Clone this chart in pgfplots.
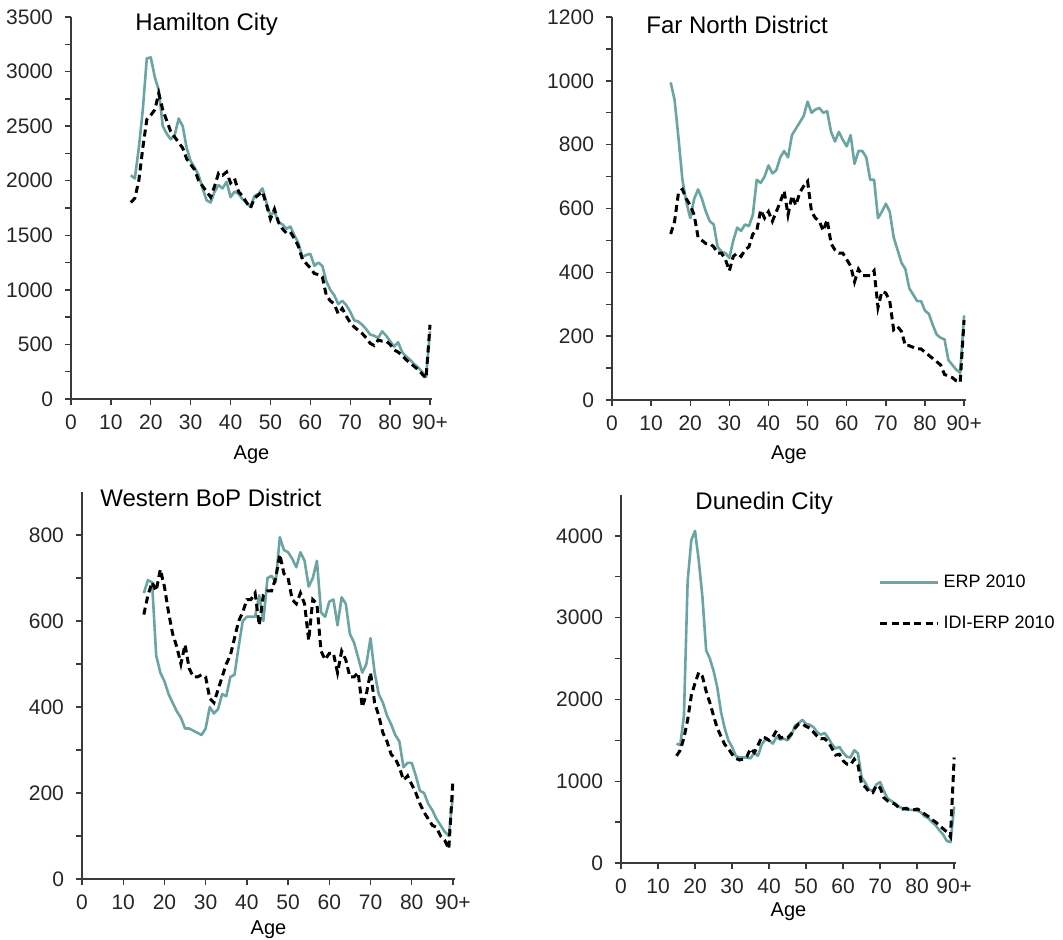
\documentclass[border=0pt]{standalone}
\usepackage{fontspec}
\setmainfont{Liberation Sans}
\usepackage{pgfplots}
\usepackage{pgfplotstable}
\pgfplotsset{compat=1.18}
\definecolor{erpTeal}{HTML}{6AA5A3}
\definecolor{axGrey}{HTML}{3A3A3A}

% age, ERP 2010, IDI-ERP 2010
\pgfplotstableread{
age erp idi
15 2050 1800
16 2020 1840
17 2300 2000
18 2650 2300
19 3120 2560
20 3130 2600
21 2950 2650
22 2830 2800
23 2500 2650
24 2430 2550
25 2380 2450
26 2420 2400
27 2570 2350
28 2500 2300
29 2300 2200
30 2180 2150
31 2120 2100
32 2050 2000
33 1930 1950
34 1820 1900
35 1800 1850
36 1900 1950
37 1960 2070
38 1930 2050
39 1990 2080
40 1850 1980
41 1900 2020
42 1880 1900
43 1830 1860
44 1800 1800
45 1760 1750
46 1860 1840
47 1880 1870
48 1930 1900
49 1800 1780
50 1680 1650
51 1720 1740
52 1620 1620
53 1600 1560
54 1560 1520
55 1580 1530
56 1500 1470
57 1430 1400
58 1300 1280
59 1320 1240
60 1330 1200
61 1220 1150
62 1250 1140
63 1220 1120
64 1080 950
65 1000 900
66 950 870
67 870 780
68 900 830
69 860 760
70 800 700
71 720 660
72 710 630
73 680 600
74 640 560
75 590 510
76 580 490
77 560 540
78 620 530
79 580 530
80 530 500
81 480 450
82 520 430
83 430 400
84 390 360
85 360 330
86 320 300
87 290 270
88 250 230
89 200 190
90 620 680
}\hamilton

\pgfplotstableread{
age erp idi
15 995 520
16 940 560
17 820 650
18 690 660
19 620 630
20 570 610
21 630 580
22 660 510
23 630 500
24 590 490
25 560 490
26 550 480
27 480 460
28 465 460
29 460 440
30 445 405
31 500 450
32 540 460
33 530 450
34 550 470
35 545 480
36 580 520
37 690 530
38 680 595
39 700 570
40 735 590
41 710 560
42 720 590
43 760 620
44 780 655
45 760 580
46 830 640
47 850 610
48 870 650
49 890 670
50 935 685
51 900 590
52 910 570
53 915 560
54 900 530
55 905 565
56 840 490
57 810 470
58 840 460
59 815 460
60 795 440
61 830 420
62 740 370
63 780 410
64 780 390
65 760 390
66 690 390
67 690 405
68 570 290
69 590 340
70 615 335
71 590 310
72 510 220
73 470 230
74 430 215
75 410 170
76 350 170
77 330 165
78 310 160
79 310 160
80 280 150
81 270 140
82 235 130
83 205 120
84 195 110
85 190 80
86 125 75
87 110 70
88 95 60
89 85 55
90 265 250
}\farnorth

\pgfplotstableread{
age erp idi
15 665 615
16 695 660
17 690 690
18 520 670
19 480 720
20 460 680
21 430 620
22 410 570
23 390 540
24 375 500
25 350 545
26 350 490
27 345 470
28 340 470
29 335 475
30 350 470
31 400 420
32 385 410
33 395 440
34 430 470
35 425 500
36 470 520
37 475 560
38 540 600
39 600 620
40 610 650
41 610 650
42 610 665
43 660 590
44 600 660
45 700 670
46 705 670
47 690 700
48 795 755
49 765 710
50 760 700
51 745 650
52 725 640
53 760 665
54 740 640
55 680 555
56 700 650
57 740 640
58 620 530
59 610 510
60 645 525
61 650 525
62 590 480
63 655 530
64 640 510
65 570 470
66 550 470
67 515 480
68 480 400
69 500 430
70 560 480
71 480 410
72 430 380
73 410 340
74 380 320
75 360 290
76 335 280
77 320 260
78 260 230
79 270 240
80 270 220
81 240 200
82 205 175
83 200 155
84 175 140
85 160 125
86 140 120
87 125 100
88 110 90
89 100 70
90 195 230
}\westbop

\pgfplotstableread{
age erp idi
15 1460 1310
16 1440 1380
17 1800 1530
18 3450 1750
19 3950 2050
20 4060 2200
21 3700 2330
22 3250 2280
23 2600 2100
24 2500 1960
25 2350 1800
26 2150 1650
27 1850 1550
28 1650 1450
29 1500 1400
30 1420 1330
31 1310 1280
32 1290 1260
33 1290 1270
34 1290 1300
35 1280 1400
36 1350 1350
37 1310 1440
38 1450 1540
39 1510 1530
40 1500 1500
41 1460 1540
42 1540 1620
43 1510 1530
44 1520 1540
45 1500 1530
46 1560 1580
47 1680 1650
48 1710 1700
49 1750 1700
50 1700 1670
51 1690 1650
52 1660 1600
53 1600 1550
54 1570 1520
55 1590 1520
56 1530 1480
57 1450 1400
58 1400 1320
59 1420 1330
60 1350 1250
61 1300 1210
62 1290 1200
63 1380 1270
64 1340 1200
65 1050 960
66 980 930
67 900 870
68 880 860
69 960 950
70 990 920
71 880 800
72 790 760
73 760 740
74 730 720
75 690 680
76 670 660
77 650 670
78 650 650
79 650 650
80 640 660
81 620 640
82 570 600
83 550 570
84 500 530
85 460 500
86 400 460
87 350 420
88 270 380
89 255 320
90 690 1290
}\dunedin

\tikzset{paneltitle/.style={anchor=west, inner sep=0pt, font=\fontsize{12}{14}\selectfont}}

\pgfplotsset{
  agepanel/.style={
    scale only axis, anchor=south west, clip mode=individual,
    axis lines=left, axis line style={-, axGrey, line width=0.8pt},
    xmin=0, xmax=90.5, ymin=0,
    xtick={0,10,...,90}, xticklabels={0,10,20,30,40,50,60,70,80,90+},
    tick align=outside, major tick length=3pt, minor tick length=3pt,
    tick style={axGrey, line width=0.7pt},
    minor y tick num=1,
    ticklabel style={font=\fontsize{10.5}{11}\selectfont, text=black!85},
    xticklabel style={yshift=-1.5pt},
    yticklabel style={xshift=-2.5pt},
    /pgf/number format/1000 sep={},
    /pgf/number format/assume math mode=true,
    xlabel={Age},
    xlabel style={font=\fontsize{10}{12}\selectfont, at={(axis description cs:0.5,0)}, anchor=center},
  },
  erp/.style={erpTeal, line width=1.3pt, line join=round},
  idi/.style={black, line width=1.5pt, dash pattern=on 3.5pt off 2.2pt},
}

\begin{document}
\begin{tikzpicture}
\useasboundingbox (0,0) rectangle (531.5pt,469.5pt);

% Hamilton City
\begin{axis}[agepanel, at={(35.5pt,270pt)}, width=180.5pt, height=191pt,
  ymax=3500, ytick={0,500,...,3500}, xlabel style={yshift=-28pt}]
\addplot[erp] table[x=age, y=erp] {\hamilton};
\addplot[idi] table[x=age, y=idi] {\hamilton};
\node[paneltitle] at (axis description cs:0.177,0.98) {Hamilton City};
\end{axis}

% Far North District
\begin{axis}[agepanel, at={(306pt,269.5pt)}, width=177pt, height=191.5pt,
  ymax=1200, ytick={0,200,...,1200}, xlabel style={yshift=-27.5pt}]
\addplot[erp] table[x=age, y=erp] {\farnorth};
\addplot[idi] table[x=age, y=idi] {\farnorth};
\node[paneltitle] at (axis description cs:0.096,0.979) {Far North District};
\end{axis}

% Western BoP District
\begin{axis}[agepanel, at={(41pt,30pt)}, width=186.5pt, height=193.5pt,
  ymax=900, ytick={0,200,...,800}, xlabel style={yshift=-25.5pt}]
\addplot[erp] table[x=age, y=erp] {\westbop};
\addplot[idi] table[x=age, y=idi] {\westbop};
\node[paneltitle] at (axis description cs:0.048,0.984) {Western BoP District};
\end{axis}

% Dunedin City
\begin{axis}[agepanel, at={(310.5pt,38pt)}, width=167.5pt, height=184pt,
  ymax=4500, ytick={0,1000,...,4000}, xlabel style={yshift=-24.5pt},
  legend style={at={(axis description cs:0.768,0.796)}, anchor=north west,
    draw=none, fill=none, font=\fontsize{9}{11}\selectfont, row sep=9pt,
    inner sep=0pt},
  legend cell align=left,
  legend image code/.code={\draw[#1] (0pt,0pt) -- (29pt,0pt);}]
\addplot[erp] table[x=age, y=erp] {\dunedin};
\addlegendentry{ERP 2010}
\addplot[idi] table[x=age, y=idi] {\dunedin};
\addlegendentry{IDI-ERP 2010}
\node[paneltitle] at (axis description cs:0.221,0.978) {Dunedin City};
\end{axis}
\end{tikzpicture}
\end{document}
